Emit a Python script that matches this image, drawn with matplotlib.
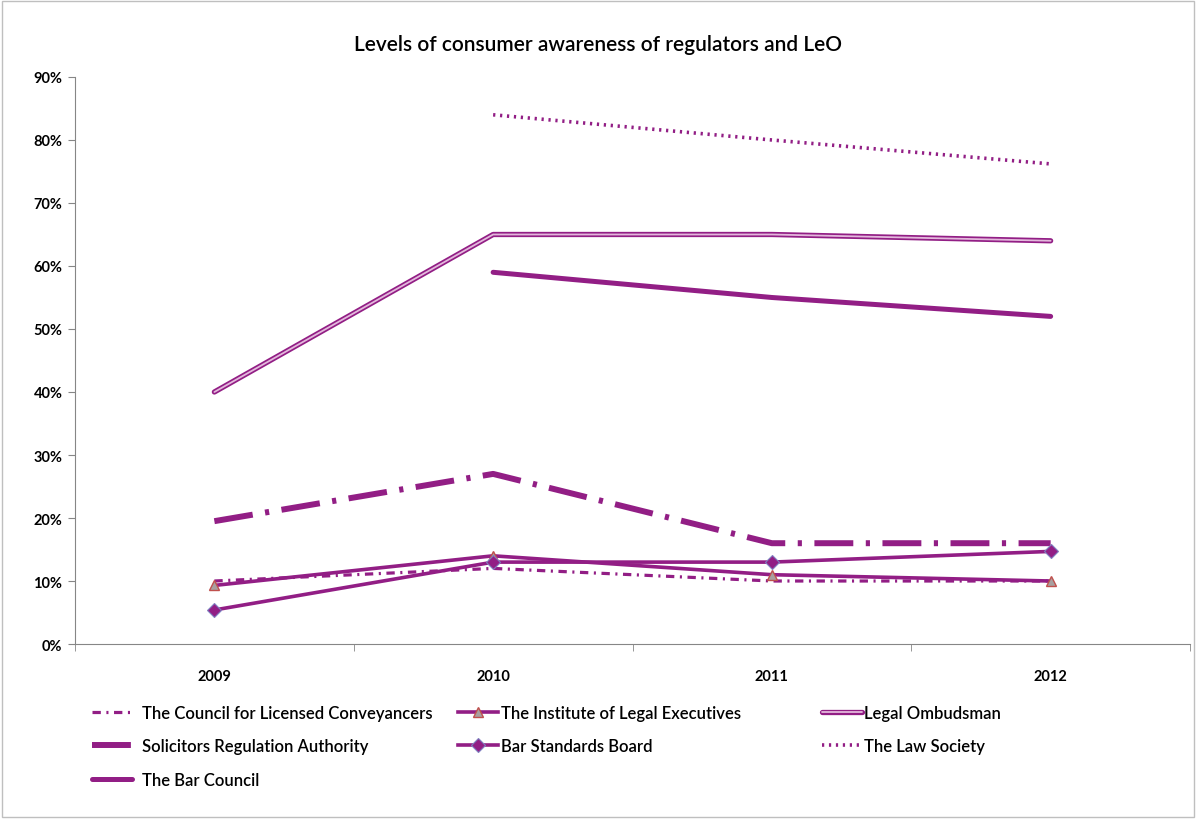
import matplotlib
matplotlib.use("Agg")
import matplotlib.pyplot as plt
import matplotlib.patheffects as pe
from matplotlib.patches import Rectangle
import numpy as np

plt.rcParams['font.family'] = ['Lato', 'DejaVu Sans']
plt.rcParams['lines.scale_dashes'] = False

# data (percent)
years = ['2009', '2010', '2011', '2012']
clc = [10, 12, 10, 10]
ilex = [9.3, 14, 11, 10]
leo = [40, 65, 65, 64]
sra = [19.5, 27, 16, 16]
bsb = [5.4, 13, 13, 14.7]
law_society = [np.nan, 84, 80, 76.2]
bar_council = [np.nan, 59, 55, 52]

purple = '#921E85'
light = '#E3B8DC'

fig = plt.figure(figsize=(11.96, 8.2), dpi=100)
ax = fig.add_axes([0.0627, 0.2134, 0.9323, 0.6915])
x = np.arange(len(years))

l_clc, = ax.plot(x, clc, color=purple, lw=2.3, dashes=(6, 4, 1.5, 4),
                 label='The Council for Licensed Conveyancers')
l_sra, = ax.plot(x, sra, color=purple, lw=4.3, dashes=(28, 9, 3, 9),
                 label='Solicitors Regulation Authority')
l_bar, = ax.plot(x, bar_council, color=purple, lw=3.6, solid_capstyle='round',
                 label='The Bar Council')
l_ilex, = ax.plot(x, ilex, color=purple, lw=2.6, marker='^', markersize=7,
                  markerfacecolor='#A8A0A0', markeredgecolor='#C0504D', markeredgewidth=1,
                  label='The Institute of Legal Executives')
l_bsb, = ax.plot(x, bsb, color=purple, lw=2.6, marker='D', markersize=7.5,
                 markerfacecolor=purple, markeredgecolor='#7F7FC0', markeredgewidth=0.8,
                 label='Bar Standards Board')
l_leo, = ax.plot(x, leo, color=light, lw=1.3, solid_capstyle='round',
                 path_effects=[pe.Stroke(linewidth=3.8, foreground=purple), pe.Normal()],
                 label='Legal Ombudsman')
l_law, = ax.plot(x, law_society, color=purple, lw=2.6, dashes=(1.6, 3.4),
                 label='The Law Society')

ax.set_xlim(-0.5, 3.5)
ax.set_ylim(0, 90)
ax.set_yticks(np.arange(0, 91, 10))
ax.set_yticklabels([f'{v}%' for v in range(0, 91, 10)], fontsize=10.5, fontweight='bold')
ax.set_xticks(x)
ax.set_xticklabels(years, fontsize=10.5, fontweight='bold')
ax.set_xticks(np.arange(-0.5, 3.6, 1), minor=True)
ax.tick_params(axis='x', which='major', length=0, pad=18)
ax.tick_params(axis='x', which='minor', length=5, color='#868686')
ax.tick_params(axis='y', length=5, color='#868686', pad=4)
for s in ['top', 'right']:
    ax.spines[s].set_visible(False)
for s in ['left', 'bottom']:
    ax.spines[s].set_color('#868686')

fig.text(0.5, 0.945, 'Levels of consumer awareness of regulators and LeO',
         ha='center', va='center', fontsize=15, fontweight='semibold')

# three legend columns, laid out row by row as in the original
columns = [([l_clc, l_sra, l_bar], 0.077, 0.6),
           ([l_ilex, l_bsb], 0.383, 0.15),
           ([l_leo, l_law], 0.687, 0.15)]
for hs, x0, pad in columns:
    fig.legend(handles=hs, loc='upper left', bbox_to_anchor=(x0, 0.1396), ncol=1,
               frameon=False, prop={'size': 12, 'weight': 'semibold'},
               handlelength=2.4, handletextpad=pad, labelspacing=1.06,
               borderpad=0, borderaxespad=0)

fig.patches.append(Rectangle((0.002, 0.002), 0.996, 0.996, transform=fig.transFigure,
                             fill=False, edgecolor='#BFBFBF', lw=1))

fig.savefig('out.png', dpi=100)
